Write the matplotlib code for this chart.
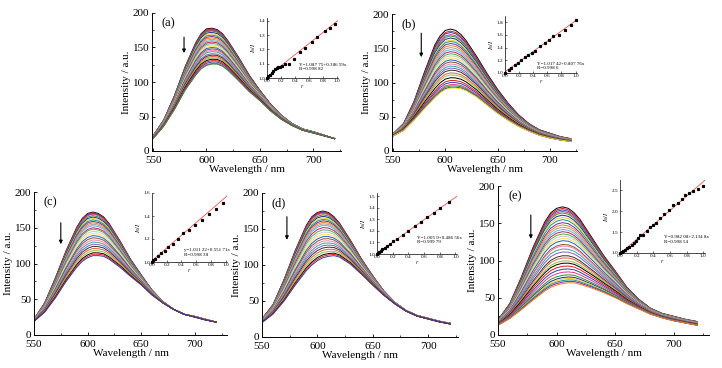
import matplotlib.pyplot as plt
import numpy as np

plt.rcParams['font.family'] = ['Liberation Serif', 'DejaVu Serif']
plt.rcParams['mathtext.fontset'] = 'stix'

W, H = 722, 368

wavelength = [550, 560, 570, 580, 590, 595, 600, 605, 610, 615, 620,
              630, 640, 650, 660, 670, 680, 690, 700, 710, 720]

# panel (a)
top_a = [22, 45, 80, 122, 157, 170, 177, 178, 176, 170, 160, 136, 110, 88, 68, 52, 40, 32, 28, 23, 18]
low_a = [18, 36, 60, 88, 110, 119, 124, 126, 126, 123, 117, 102, 86, 73, 58, 46, 37, 30, 26, 22, 18]
peaks_a = [178, 177, 176, 175, 174, 172, 170, 168, 166, 164, 162, 160, 158, 156, 154,
           152, 150, 148, 146, 144, 141, 139, 137, 135, 133, 131, 129, 127, 126]
r_a = [0, 0.02, 0.05, 0.07, 0.09, 0.12, 0.14, 0.16, 0.19, 0.21, 0.26, 0.31, 0.39,
       0.48, 0.55, 0.65, 0.72, 0.84, 0.91, 0.98]
ratio_a = [1.0, 1.012, 1.024, 1.036, 1.048, 1.06, 1.067, 1.074, 1.079, 1.083, 1.095,
           1.10, 1.133, 1.179, 1.21, 1.25, 1.29, 1.33, 1.352, 1.38]
fit_a = (1.0078, 0.3866)

# panel (b)
top_b = [25, 40, 72, 115, 155, 168, 176, 178, 176, 170, 161, 138, 113, 90, 70, 53, 40, 31, 26, 21, 18]
low_b = [22, 30, 45, 62, 78, 85, 90, 92, 92, 91, 88, 79, 67, 55, 45, 36, 29, 23, 19, 16, 14]
peaks_b = [178, 175, 173, 170, 168, 165, 162, 160, 157, 154, 151, 148, 145, 142, 139, 136,
           133, 130, 127, 124, 121, 118, 114, 111, 107, 103, 100, 97, 95, 93, 92]
r_b = [0, 0.05, 0.09, 0.14, 0.19, 0.23, 0.29, 0.33, 0.38, 0.42, 0.49, 0.56, 0.62,
       0.68, 0.76, 0.85, 0.93, 1.0]
ratio_b = [1.0, 1.04, 1.085, 1.13, 1.165, 1.2, 1.256, 1.283, 1.31, 1.35, 1.43, 1.47,
           1.52, 1.587, 1.6, 1.68, 1.76, 1.84]
fit_b = (1.0174, 0.8078)

# panel (c)
top_c = [22, 45, 80, 118, 151, 163, 170, 172, 170, 165, 156, 132, 106, 84, 63, 47, 36, 29, 26, 22, 18]
low_c = [19, 32, 52, 75, 95, 103, 108, 111, 111, 110, 106, 95, 82, 70, 56, 45, 36, 29, 25, 21, 18]
peaks_c = [172, 171, 170, 169, 167, 165, 163, 161, 159, 157, 155, 153, 150, 148, 145, 142,
           139, 136, 133, 130, 127, 124, 121, 118, 115, 113, 111]
r_c = [0, 0.02, 0.04, 0.08, 0.12, 0.17, 0.22, 0.28, 0.35, 0.42, 0.5, 0.59, 0.68, 0.77, 0.87, 0.96]
ratio_c = [1.0, 1.016, 1.03, 1.055, 1.08, 1.10, 1.13, 1.153, 1.2, 1.253, 1.28, 1.325,
           1.367, 1.42, 1.465, 1.513]
fit_c = (1.0112, 0.5517)

# panel (d)
top_d = [25, 45, 80, 120, 155, 167, 173, 175, 173, 167, 158, 134, 108, 85, 64, 48, 37, 30, 26, 22, 19]
low_d = [20, 32, 50, 72, 92, 100, 106, 110, 112, 113, 111, 101, 87, 72, 58, 46, 36, 29, 25, 21, 18]
peaks_d = [175, 174, 173, 172, 170, 168, 166, 164, 162, 160, 158, 156, 153, 150, 147, 144,
           141, 138, 135, 132, 129, 126, 123, 120, 117, 115, 113]
r_d = [0, 0.01, 0.03, 0.05, 0.07, 0.1, 0.13, 0.17, 0.21, 0.26, 0.33, 0.4, 0.48, 0.56,
       0.64, 0.73, 0.80, 0.92]
ratio_d = [1.0, 1.006, 1.016, 1.03, 1.04, 1.055, 1.07, 1.09, 1.11, 1.13, 1.165, 1.20,
           1.24, 1.28, 1.32, 1.36, 1.40, 1.45]
fit_d = (1.0059, 0.4866)

# panel (e)
top_e = [20, 42, 78, 118, 152, 164, 170, 172, 170, 164, 155, 131, 107, 86, 64, 48, 36, 29, 25, 21, 18]
low_e = [13, 22, 34, 47, 59, 64, 67, 69, 70, 70, 68, 63, 57, 50, 42, 35, 28, 23, 19, 16, 13]
peaks_e = [172, 170, 168, 166, 164, 161, 158, 155, 151, 148, 145, 142, 139, 136, 133, 130,
           127, 122, 120, 116, 112, 107, 104, 100, 97, 93, 89, 85, 81, 78, 76, 74, 72, 70]
r_e = [0, 0.02, 0.04, 0.06, 0.08, 0.11, 0.14, 0.17, 0.19, 0.22, 0.24, 0.27, 0.32, 0.36,
       0.40, 0.43, 0.48, 0.53, 0.59, 0.64, 0.69, 0.74, 0.78, 0.83, 0.88, 0.93, 0.99]
ratio_e = [1.0, 1.03, 1.05, 1.08, 1.11, 1.15, 1.2, 1.24, 1.29, 1.37, 1.42, 1.44, 1.52,
           1.63, 1.67, 1.71, 1.85, 1.94, 2.04, 2.14, 2.21, 2.3, 2.38, 2.43, 2.48, 2.54, 2.61]
fit_e = (0.982, 1.73)

palette = ['#000000', '#e41a1c', '#3040a0', '#e0388a', '#2e8b3a', '#1c2c80', '#f0d020',
           '#20909a', '#7a2a90', '#f08020', '#a0a0a0', '#60b0e0', '#c02060', '#50b050',
           '#c8c8c8', '#f5e060', '#2060c0', '#905030', '#f080b0', '#40a0a0', '#8060c0',
           '#303030', '#e06040', '#90c040']

panels = [
    dict(label='(a)', box=(152, 13, 341, 151), xlim=(549, 726), top=top_a, low=low_a,
         peaks=peaks_a, arrow=(579, 165, 142), inbox=(267, 18, 338, 78),
         r=r_a, ratio=ratio_a, fit=fit_a, inylim=(1.0, 1.42),
         inyt=[1.0, 1.1, 1.2, 1.3, 1.4], eq='Y=1.087 75+0.386 59x', R='R=0.998 82',
         eqpos=(0.45, 0.25)),
    dict(label='(b)', box=(392, 14, 577, 151), xlim=(549, 726), top=top_b, low=low_b,
         peaks=peaks_b, arrow=(577, 172, 137), inbox=(505, 16, 577, 73),
         r=r_b, ratio=ratio_b, fit=fit_b, inylim=(1.0, 1.9),
         inyt=[1.0, 1.2, 1.4, 1.6, 1.8], eq='Y=1.017 42+0.807 76x', R='R=0.998 6',
         eqpos=(0.45, 0.2)),
    dict(label='(c)', box=(34, 192, 227, 335), xlim=(550, 730), top=top_c, low=low_c,
         peaks=peaks_c, arrow=(575, 157, 127), inbox=(152, 193, 227, 262),
         r=r_c, ratio=ratio_c, fit=fit_c, inylim=(1.0, 1.6),
         inyt=[1.0, 1.2, 1.4, 1.6], eq='y=1.011 22+0.551 71x', R='R=0.998 38',
         eqpos=(0.42, 0.2)),
    dict(label='(d)', box=(262, 193, 458, 337), xlim=(550, 727), top=top_d, low=low_d,
         peaks=peaks_d, arrow=(572.5, 167, 135), inbox=(377, 193, 457, 254),
         r=r_d, ratio=ratio_d, fit=fit_d, inylim=(1.0, 1.53),
         inyt=[1.0, 1.1, 1.2, 1.3, 1.4, 1.5], eq='Y=1.005 9+0.486 56x', R='R=0.999 79',
         eqpos=(0.5, 0.3)),
    dict(label='(e)', box=(498, 186, 709, 335), xlim=(550, 730), top=top_e, low=low_e,
         peaks=peaks_e, arrow=(578, 161, 129), inbox=(620, 180, 705, 253),
         r=r_e, ratio=ratio_e, fit=fit_e, inylim=(1.0, 2.75),
         inyt=[1.0, 1.5, 2.0, 2.5], eq='Y=0.982 08+2.134 8x', R='R=0.998 54',
         eqpos=(0.52, 0.24)),
]


def frac(x0, y0, x1, y1):
    return [x0 / W, 1 - y1 / H, (x1 - x0) / W, (y1 - y0) / H]


fig = plt.figure(figsize=(W / 100, H / 100), dpi=100)
wl = np.array(wavelength)

for p in panels:
    ax = fig.add_axes(frac(*p['box']))
    top = np.array(p['top'], float)
    low = np.array(p['low'], float)
    pk = p['peaks']
    for i, v in enumerate(pk):
        t = (v - pk[-1]) / (pk[0] - pk[-1])
        ax.plot(wl, low + t * (top - low), color=palette[i % len(palette)], lw=0.7)
    ax.set_xlim(*p['xlim'])
    ax.set_ylim(0, 200)
    ax.set_xticks([550, 600, 650, 700])
    ax.set_xticks([575, 625, 675, 725], minor=True)
    ax.set_yticks([0, 50, 100, 150, 200])
    ax.set_yticks([25, 75, 125, 175], minor=True)
    for s in ['top', 'right']:
        ax.spines[s].set_visible(False)
    for s in ['left', 'bottom']:
        ax.spines[s].set_linewidth(0.7)
    ax.tick_params(direction='in', labelsize=8, length=2.5, width=0.6)
    ax.tick_params(axis='x', pad=3.5)
    ax.tick_params(axis='y', pad=2)
    ax.tick_params(which='minor', direction='in', length=1.5, width=0.5)
    ax.set_xlabel('Wavelength / nm', fontsize=8, labelpad=0)
    ax.set_ylabel('Intensity / a.u.', fontsize=8, labelpad=1)
    ax.text(0.05, 0.97, p['label'], transform=ax.transAxes, fontsize=9, va='top')
    ax_x, a0, a1 = p['arrow']
    ax.annotate('', xy=(ax_x, a1), xytext=(ax_x, a0),
                arrowprops=dict(arrowstyle='-|>', color='black', lw=0.8,
                                mutation_scale=5, shrinkA=0, shrinkB=0))

    ins = fig.add_axes(frac(*p['inbox']))
    ins.plot(p['r'], p['ratio'], 's', color='black', ms=1.3, clip_on=False, zorder=3)
    b0, b1 = p['fit']
    xf = np.array([0, 1.02])
    ins.plot(xf, b0 + b1 * xf, color='#f05050', lw=0.6)
    ins.set_xlim(0, 1.02)
    ins.set_ylim(*p['inylim'])
    ins.set_xticks([0, 0.2, 0.4, 0.6, 0.8, 1.0])
    ins.set_xticklabels(['0.0', '0.2', '0.4', '0.6', '0.8', '1.0'])
    ins.set_yticks(p['inyt'])
    ins.set_yticklabels(['%.1f' % v for v in p['inyt']])
    for s in ['top', 'right']:
        ins.spines[s].set_visible(False)
    for s in ['left', 'bottom']:
        ins.spines[s].set_linewidth(0.5)
    ins.patch.set_alpha(0)
    ins.tick_params(direction='in', labelsize=3.8, length=1.2, width=0.4, pad=1)
    ins.set_xlabel('$r$', fontsize=4, labelpad=0)
    ins.set_ylabel('$I_0/I$', fontsize=4.5, labelpad=0.5)
    ins.text(p['eqpos'][0], p['eqpos'][1], p['eq'] + '\n' + p['R'],
             transform=ins.transAxes, fontsize=3.6, va='top', linespacing=1.1)

fig.savefig('out.png', dpi=100)
